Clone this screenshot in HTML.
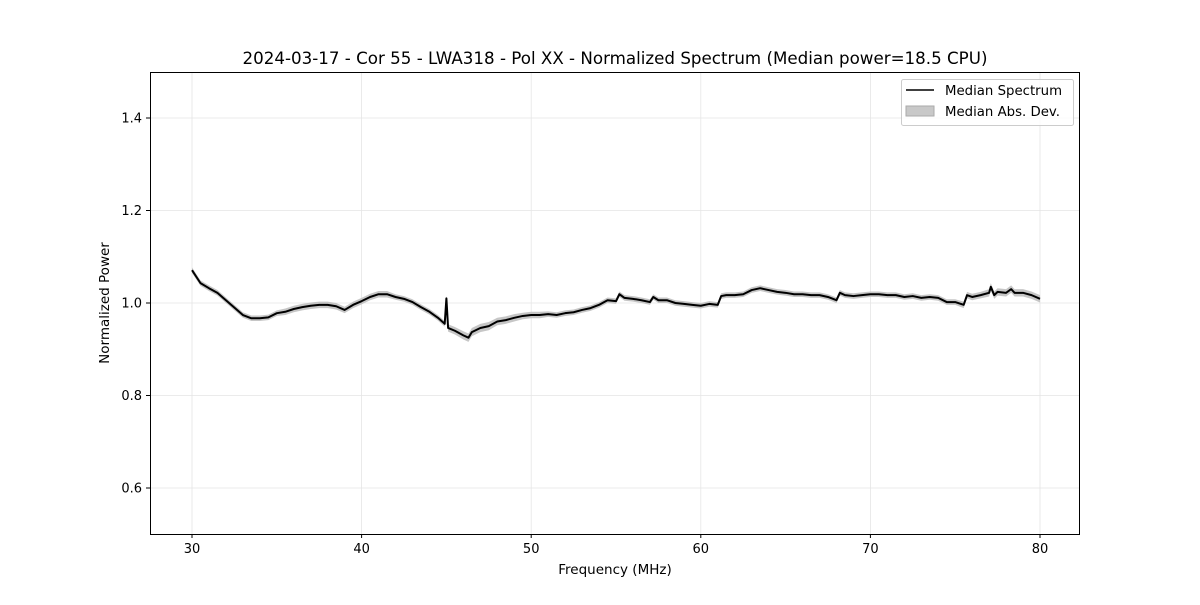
<!DOCTYPE html>
<html><head><meta charset="utf-8"><style>
body{margin:0;background:#fff;}
svg text{font-family:"DejaVu Sans","Liberation Sans",sans-serif;}
</style></head><body>
<svg id="chart" width="1200" height="600">
<rect width="1200" height="600" fill="#fff"/>
<text x="615" y="64" font-size="16.7" text-anchor="middle">2024-03-17 - Cor 55 - LWA318 - Pol XX - Normalized Spectrum (Median power=18.5 CPU)</text>
<g id="grid"></g>
<g id="band"></g>
<g id="line"></g>
<rect x="150.5" y="72.5" width="929" height="462" fill="none" stroke="#000" stroke-width="1"/>
<g id="ticks"></g>
<text x="615" y="574" font-size="13.5" text-anchor="middle">Frequency (MHz)</text>
<text transform="translate(109,303) rotate(-90)" font-size="13.5" text-anchor="middle">Normalized Power</text>
<g>
<rect x="901.5" y="79.5" width="172" height="46" rx="2" fill="#fff" fill-opacity="0.8" stroke="#ccc"/>
<line x1="906" y1="90" x2="934" y2="90" stroke="#000" stroke-width="1.5"/>
<text x="945" y="95" font-size="13.3">Median Spectrum</text>
<rect x="906" y="106" width="28" height="10" fill="#c8c8c8" stroke="#aaa"/>
<text x="945" y="116" font-size="13.3">Median Abs. Dev.</text>
</g>
</svg>
<script>
const freqs=[30,30.5,31,31.5,32,32.5,33,33.5,34,34.5,35,35.5,36,36.5,37,37.5,38,38.5,39,39.5,40,40.5,41,41.5,42,42.5,43,43.5,44,44.5,44.9,45.0,45.1,45.5,46,46.3,46.5,47,47.5,48,48.5,49,49.5,50,50.5,51,51.5,52,52.5,53,53.5,54,54.5,55,55.2,55.5,56,56.5,57,57.2,57.5,58,58.5,59,59.5,60,60.5,61,61.2,61.5,62,62.5,63,63.5,64,64.5,65,65.5,66,66.5,67,67.5,68,68.2,68.5,69,69.5,70,70.5,71,71.5,72,72.5,73,73.5,74,74.5,75,75.5,75.7,76,76.5,77,77.1,77.3,77.5,78,78.3,78.5,79,79.5,80];
const medianPower=[1.071,1.043,1.032,1.022,1.006,0.99,0.974,0.967,0.967,0.969,0.978,0.981,0.987,0.991,0.994,0.996,0.996,0.993,0.985,0.996,1.004,1.013,1.019,1.019,1.013,1.009,1.002,0.991,0.981,0.968,0.955,1.01,0.946,0.94,0.93,0.925,0.937,0.946,0.95,0.96,0.963,0.968,0.972,0.974,0.974,0.976,0.974,0.978,0.98,0.985,0.989,0.996,1.006,1.004,1.019,1.011,1.009,1.006,1.002,1.013,1.006,1.006,1.0,0.998,0.996,0.994,0.998,0.996,1.015,1.017,1.017,1.019,1.028,1.032,1.028,1.024,1.022,1.019,1.019,1.017,1.017,1.013,1.006,1.022,1.017,1.015,1.017,1.019,1.019,1.017,1.017,1.013,1.015,1.011,1.013,1.011,1.002,1.002,0.996,1.017,1.013,1.017,1.022,1.035,1.017,1.024,1.022,1.03,1.022,1.022,1.017,1.009];
const madValues=[0.006,0.006,0.006,0.006,0.006,0.006,0.006,0.006,0.006,0.006,0.006,0.007,0.007,0.007,0.007,0.007,0.007,0.007,0.007,0.007,0.007,0.007,0.007,0.007,0.006,0.006,0.006,0.006,0.006,0.006,0.006,0.006,0.008,0.008,0.009,0.009,0.009,0.009,0.009,0.008,0.008,0.008,0.007,0.007,0.007,0.006,0.006,0.006,0.006,0.006,0.006,0.006,0.006,0.006,0.006,0.006,0.006,0.006,0.006,0.006,0.006,0.006,0.006,0.006,0.006,0.006,0.006,0.006,0.006,0.006,0.006,0.006,0.006,0.006,0.006,0.006,0.006,0.006,0.006,0.006,0.006,0.006,0.006,0.006,0.006,0.006,0.006,0.006,0.006,0.006,0.006,0.006,0.006,0.006,0.006,0.006,0.006,0.006,0.007,0.007,0.007,0.007,0.008,0.008,0.008,0.008,0.008,0.008,0.008,0.008,0.008,0.008];
const xTicks=[30,40,50,60,70,80];
const yTicks=[0.6,0.8,1.0,1.2,1.4];
const NS="http://www.w3.org/2000/svg";
const X=f=>192+(f-30)*(1040-192)/50;
const Y=v=>303-(v-1.0)*462.5;
function mk(tag,attrs,parent){const e=document.createElementNS(NS,tag);for(const k in attrs)e.setAttribute(k,attrs[k]);document.getElementById(parent).appendChild(e);return e;}
xTicks.forEach(t=>{
  const g=mk('line',{x1:X(t),x2:X(t),y1:72,y2:534,stroke:'#e5e5e5','stroke-width':0.8},'grid');
  
  
  const tk=mk('line',{x1:X(t),x2:X(t),y1:534,y2:538,stroke:'#000'},'ticks');
  
  
  const tx=mk('text',{x:X(t),y:553,'font-size':13,'text-anchor':'middle'},'ticks');
  tx.textContent=t;
  
  
});
yTicks.forEach(t=>{
  const g=mk('line',{x1:150,x2:1080,y1:Y(t),y2:Y(t),stroke:'#e5e5e5','stroke-width':0.8},'grid');
  
  
  const tk=mk('line',{x1:146,x2:150,y1:Y(t),y2:Y(t),stroke:'#000'},'ticks');
  
  
  const tx=mk('text',{x:142,y:Y(t)+4.5,'font-size':13,'text-anchor':'end'},'ticks');
  tx.textContent=t.toFixed(1);
  
  
});
let up=freqs.map((f,i)=>X(f)+','+Y(medianPower[i]+madValues[i]));
let dn=freqs.map((f,i)=>X(f)+','+Y(medianPower[i]-madValues[i])).reverse();
const band=mk('polygon',{points:up.concat(dn).join(' '),fill:'#c0c0c0','fill-opacity':0.9},'band');


const ln=mk('polyline',{points:freqs.map((f,i)=>X(f)+','+Y(medianPower[i])).join(' '),fill:'none',stroke:'#000','stroke-width':2,'stroke-linejoin':'round'},'line');


</script>
</body></html>
